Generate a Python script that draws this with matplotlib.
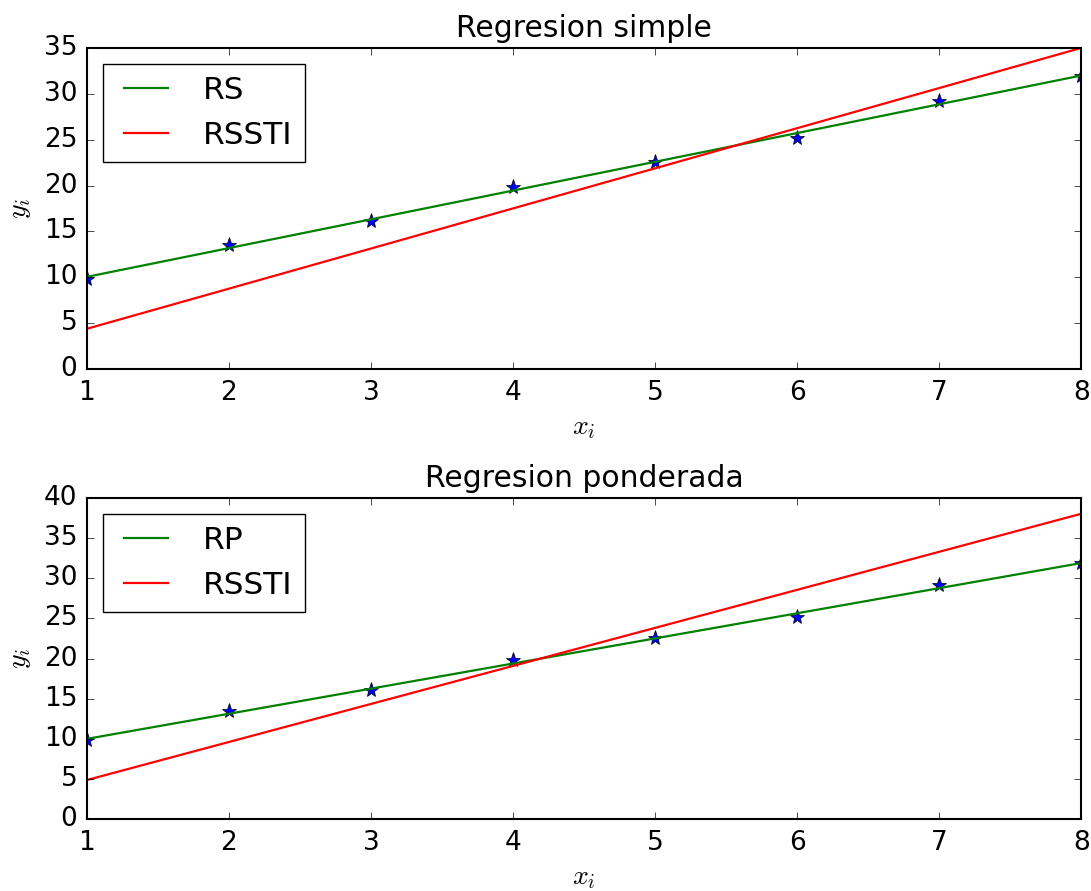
import numpy as np
import matplotlib
matplotlib.use('Agg')
import matplotlib.pyplot as plt

plt.style.use('classic')
plt.rcParams['font.size'] = 18
plt.rcParams['axes.linewidth'] = 1.5
plt.rcParams['xtick.labelsize'] = 19
plt.rcParams['ytick.labelsize'] = 19
plt.rcParams['xtick.major.pad'] = 8
plt.rcParams['ytick.major.pad'] = 7
plt.rcParams['xtick.major.size'] = 5
plt.rcParams['ytick.major.size'] = 5

# datos
x = np.array([1, 2, 3, 4, 5, 6, 7, 8])
y = np.array([9.8, 13.5, 16.1, 19.85, 22.6, 25.2, 29.2, 31.95])

# rectas (pendiente, ordenada)
rs = (3.138, 6.904)
rssti_simple = (4.377, 0.0)
rp = (3.13, 6.86)
rssti_pond = (4.74, 0.12)

xs = np.array([1, 8])

fig = plt.figure(figsize=(10.91, 8.91), dpi=100)
ax1 = fig.add_axes([0.0797, 0.586, 0.9113, 0.36])
ax2 = fig.add_axes([0.0797, 0.0808, 0.9113, 0.3602])


def panel(ax, lab1, a, b, ymax, titulo):
    ax.plot(x, y, '*', color='blue', markersize=11)
    ax.plot(xs, a[0] * xs + a[1], 'g-', lw=1.6, label=lab1)
    ax.plot(xs, b[0] * xs + b[1], 'r-', lw=1.6, label='RSSTI')
    ax.set_xlim(1, 8)
    ax.set_ylim(0, ymax)
    ax.set_title(titulo, fontsize=21.5, pad=8)
    ax.set_xlabel('$x_i$', fontsize=20, labelpad=5)
    ax.set_ylabel('$y_i$', fontsize=20, labelpad=8)
    ax.legend(loc='upper left', fontsize=22.5)


panel(ax1, 'RS', rs, rssti_simple, 35, 'Regresion simple')
panel(ax2, 'RP', rp, rssti_pond, 40, 'Regresion ponderada')

fig.savefig('out.png', dpi=100)
